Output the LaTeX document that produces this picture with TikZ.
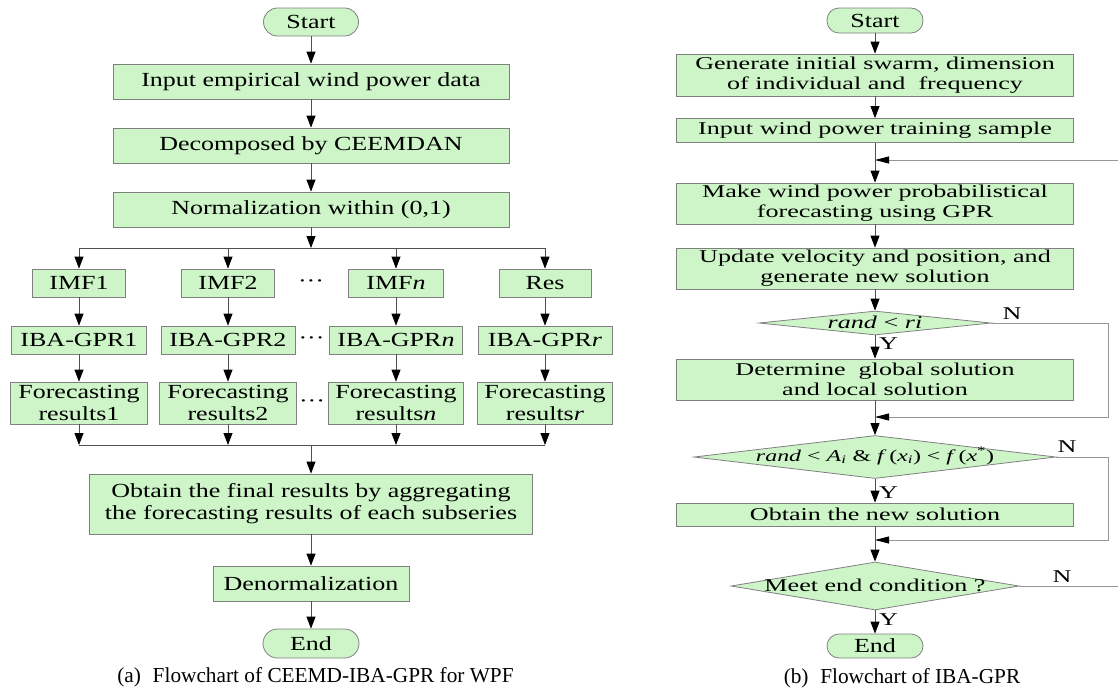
\documentclass[tikz,border=0pt]{standalone}
\usepackage{fontspec}
\setmainfont{Liberation Serif}
\newfontfamily\lfont[FakeStretch=1.3]{Liberation Serif}
\newfontfamily\rfont[FakeStretch=1.45]{Liberation Serif}
\usetikzlibrary{shapes.geometric,arrows.meta,calc}
\definecolor{boxgreen}{RGB}{205,245,200}
\definecolor{boxedge}{RGB}{128,128,128}
\definecolor{linegray}{RGB}{80,80,80}
\definecolor{loopgray}{RGB}{150,150,150}
\begin{document}
\begin{tikzpicture}[x=1pt,y=-1pt,
  base/.style={draw=boxedge, fill=boxgreen, line width=0.8pt, inner sep=0pt, align=center},
  lbox/.style={base, font=\lfont\fontsize{20}{22}\selectfont},
  rbox/.style={base, font=\rfont\fontsize{18}{20}\selectfont, minimum width=397pt},
  term/.style={base, rounded corners=12pt, font=\lfont\fontsize{20}{22}\selectfont},
  dia/.style={base, diamond},
  ltxt/.style={font=\lfont\fontsize{20}{22}\selectfont, inner sep=0pt},
  rtxt/.style={font=\rfont\fontsize{18}{20}\selectfont, inner sep=0pt},
  capt/.style={font=\fontsize{21.3}{24}\selectfont, inner sep=0pt, anchor=base},
  conn/.style={draw=linegray, line width=0.8pt, -{Triangle[length=12pt,width=9pt,color=black]}},
  plain/.style={draw=linegray, line width=0.8pt},
  loopconn/.style={draw=loopgray, line width=0.8pt, -{Triangle[length=14pt,width=7pt,color=black]}},
  loopline/.style={draw=loopgray, line width=0.8pt}
]
\useasboundingbox (0,0) rectangle (1118,696);

% ---------------- left flowchart ----------------
\node[term, minimum width=95pt, minimum height=28pt, rounded corners=14pt] (lstart) at (311,22) {Start};
\node[lbox, minimum width=396pt, minimum height=35pt] (l1) at (311,81.5) {Input empirical wind power data};
\node[lbox, minimum width=396pt, minimum height=35pt] (l2) at (311,145.5) {Decomposed by CEEMDAN};
\node[lbox, minimum width=396pt, minimum height=35pt] (l3) at (311,209.5) {Normalization within (0,1)};

\node[lbox, minimum width=93pt, minimum height=28pt] (imf1) at (79,283) {IMF1};
\node[lbox, minimum width=93pt, minimum height=28pt] (imf2) at (228,283) {IMF2};
\node[lbox, minimum width=95pt, minimum height=28pt] (imfn) at (396,283) {IMF\textit{n}};
\node[lbox, minimum width=92pt, minimum height=28pt] (res) at (545,283) {Res};

\node[lbox, minimum width=135pt, minimum height=28pt] (g1) at (79,340) {IBA-GPR1};
\node[lbox, minimum width=134pt, minimum height=28pt] (g2) at (228,340) {IBA-GPR2};
\node[lbox, minimum width=133pt, minimum height=28pt] (gn) at (396,340) {IBA-GPR\textit{n}};
\node[lbox, minimum width=134pt, minimum height=28pt] (gr) at (545,340) {IBA-GPR\textit{r}};

\node[lbox, minimum width=137pt, minimum height=42pt] (f1) at (79,403) {Forecasting\\results1};
\node[lbox, minimum width=137pt, minimum height=42pt] (f2) at (228,403) {Forecasting\\results2};
\node[lbox, minimum width=135pt, minimum height=42pt] (fn) at (396,403) {Forecasting\\results\textit{n}};
\node[lbox, minimum width=135pt, minimum height=42pt] (fr) at (545,403) {Forecasting\\results\textit{r}};

\node[ltxt] (dots1) at (311,284) {···};
\node[ltxt] (dots2) at (311.5,341) {···};
\node[ltxt] (dots3) at (312,404) {···};

\node[lbox, minimum width=443pt, minimum height=60pt] (fin) at (311,504) {Obtain the final results by aggregating\\the forecasting results of each subseries};
\node[lbox, minimum width=196pt, minimum height=35pt] (den) at (311,583.5) {Denormalization};
\node[term, minimum width=96pt, minimum height=29pt, rounded corners=14.5pt] (lend) at (311,643.5) {End};
\node[capt] (capa) at (315.5,682.5) {(a)\hspace{0.55em}Flowchart of CEEMD-IBA-GPR for WPF};

\coordinate (bt) at (311,248);
\coordinate (b1) at (79,248);
\coordinate (b4) at (545,248);
\coordinate (lbt) at (311,445);
\coordinate (lb1) at (79,445);
\coordinate (lb4) at (545,445);

\draw[conn] (lstart.south) -- (l1.north);
\draw[conn] (l1.south) -- (l2.north);
\draw[conn] (l2.south) -- (l3.north);
\draw[conn] (l3.south) -- (bt);
\draw[plain] (b1) -- (b4);
\foreach \n in {imf1,imf2,imfn,res}{\draw[conn] (\n.north |- bt) -- (\n.north);}
\draw[conn] (imf1.south) -- (g1.north);
\draw[conn] (imf2.south) -- (g2.north);
\draw[conn] (imfn.south) -- (gn.north);
\draw[conn] (res.south) -- (gr.north);
\draw[conn] (g1.south) -- (f1.north);
\draw[conn] (g2.south) -- (f2.north);
\draw[conn] (gn.south) -- (fn.north);
\draw[conn] (gr.south) -- (fr.north);
\foreach \n in {f1,f2,fn,fr}{\draw[conn] (\n.south) -- (\n.south |- lbt);}
\draw[plain] (lb1) -- (lb4);
\draw[conn] (lbt) -- (fin.north);
\draw[conn] (fin.south) -- (den.north);
\draw[conn] (den.south) -- (lend.north);

% ---------------- right flowchart ----------------
\node[term, minimum width=96pt, minimum height=25pt] (rstart) at (875,20.5) {Start};
\node[rbox, minimum height=42pt] (rg) at (875,75) {Generate initial swarm, dimension\\of individual and\ \ frequency};
\node[rbox, minimum height=24pt] (ri) at (875,130.5) {Input wind power training sample};
\node[rbox, minimum height=41pt] (rm) at (875,203.5) {Make wind power probabilistical\\forecasting using GPR};
\node[rbox, minimum height=41pt] (ru) at (875,268.5) {Update velocity and position, and\\generate new solution};
\node[dia, minimum width=232pt, minimum height=24pt] (d1) at (875,323) {};
\node[rtxt] (d1t) at (875,322) {\textit{rand} < \textit{ri}};
\node[rbox, minimum height=41pt] (rd) at (875,379.5) {Determine\ \ global solution\\and local solution};
\node[dia, minimum width=362pt, minimum height=43pt] (d2) at (875,457) {};
\node[rtxt, font=\rfont\fontsize{16.5}{20}\selectfont] (d2t) at (875,456) {\textit{rand} < \textit{A}\textsubscript{\textit{i}} \& \textit{f}\,(\textit{x}\textsubscript{\textit{i}}) < \textit{f}\,(\textit{x}\textsuperscript{*})};
\node[rbox, minimum height=23pt] (ro) at (875,514.5) {Obtain the new solution};
\node[dia, minimum width=288pt, minimum height=48pt] (d3) at (875,586) {};
\node[rtxt] (d3t) at (875,585) {Meet end condition ?};
\node[term, minimum width=96pt, minimum height=24pt] (rend) at (875,646) {End};
\node[capt] (capb) at (902,683.5) {(b)\hspace{0.55em}Flowchart of IBA-GPR};

\node[rtxt] (n1) at (1012,314) {N};
\node[rtxt] (n2) at (1067,447) {N};
\node[rtxt] (n3) at (1062,577) {N};
\node[rtxt, anchor=west] (y1) at (879,344) {Y};
\node[rtxt, anchor=west] (y2) at (879,493) {Y};
\node[rtxt, anchor=west] (y3) at (879,620) {Y};

\coordinate (fb) at (1118,160);
\coordinate (m1) at (875,160);
\coordinate (k1) at (1108,323);
\coordinate (k2) at (1108,417);
\coordinate (m2) at (875,417);
\coordinate (k3) at (1108,457);
\coordinate (k4) at (1108,540);
\coordinate (m3) at (875,540);
\coordinate (fe) at (1118,586);

\draw[conn] (rstart.south) -- (rg.north);
\draw[conn] (rg.south) -- (ri.north);
\draw[conn] (ri.south) -- (rm.north);
\draw[loopconn] (fb) -- (m1);
\draw[conn] (rm.south) -- (ru.north);
\draw[conn] (ru.south) -- (d1.north);
\draw[conn] (d1.south) -- (rd.north);
\draw[loopconn] (d1.east) -- (k1) -- (k2) -- (m2);
\draw[conn] (rd.south) -- (d2.north);
\draw[conn] (d2.south) -- (ro.north);
\draw[loopconn] (d2.east) -- (k3) -- (k4) -- (m3);
\draw[conn] (ro.south) -- (d3.north);
\draw[loopline] (d3.east) -- (fe);
\draw[conn] (d3.south) -- (rend.north);
\end{tikzpicture}
\end{document}
